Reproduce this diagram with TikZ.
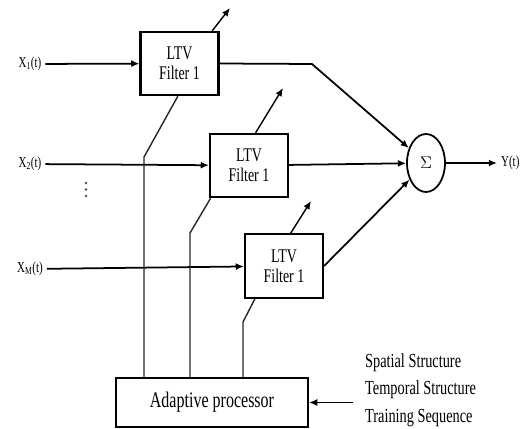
\documentclass[tikz,border=0pt]{standalone}
\usepackage{fontspec}
\setmainfont[FakeStretch=0.72]{Liberation Serif}
\usetikzlibrary{arrows.meta,shapes.geometric}

\begin{document}
\begin{tikzpicture}[
  x=0.03cm, y=-0.03cm,
  filt/.style={rectangle, draw, line width=1.8pt, minimum width=2.34cm, minimum height=1.9cm, align=center, font=\fontsize{16.5}{17}\selectfont},
  arrow/.style={-{Latex[length=7pt,width=6pt]}, line width=1.5pt},
  ctrl/.style={line width=1.2pt, black!85},
  lbl/.style={font=\fontsize{13}{14}\selectfont}
]
\useasboundingbox (0,0) rectangle (522,429);

\node[filt] (f1) at (179.5,63.5) {LTV\\Filter 1};
\node[filt] (f2) at (249,165.5) {LTV\\Filter 1};
\node[filt] (f3) at (284,266) {LTV\\Filter 1};

\node[ellipse, draw, line width=1.5pt, minimum width=1.14cm, minimum height=1.74cm, inner sep=0pt, font=\fontsize{15}{16}\selectfont] (sum) at (426,163) {$\Sigma$};

\node[rectangle, draw, line width=1.8pt, minimum width=5.76cm, minimum height=1.47cm, font=\fontsize{19}{20}\selectfont] (proc) at (212,402.5) {Adaptive processor};

\node[lbl] (x1) at (30,64) {X\textsubscript{1}(t)};
\node[lbl] (x2) at (30,164) {X\textsubscript{2}(t)};
\node[lbl] (xm) at (30,269) {X\textsubscript{M}(t)};
\node[lbl, anchor=west] (y) at (497,163) {Y(t)};

\node[anchor=west, align=left, font=\fontsize{17}{23.5}\selectfont] (info) at (361,390) {Spatial Structure\\Temporal Structure\\Training Sequence};

% vertical dots
\foreach \dy in {183,189.5,196}
  \fill[black!70] (86,\dy) circle (1.3);

% inputs
\draw[arrow] (x1) -- (f1);
\draw[arrow] (x2) -- (f2);
\draw[arrow] (xm) -- (f3);

% adjustable weights
\coordinate (w1) at (230,8);
\coordinate (w2) at (283,88);
\coordinate (w3) at (311,201);
\draw[arrow, line width=1.2pt] ([xshift=-0.22cm]f1.north east) -- (w1);
\draw[arrow, line width=1.2pt] ([xshift=1.4cm]f2.north west) -- (w2);
\draw[arrow, line width=1.2pt] ([xshift=1.4cm]f3.north west) -- (w3);

% to the summer
\coordinate (b1) at (312,64);
\draw[arrow] (f1.east) -- (b1) -- (sum);
\draw[arrow] (f2) -- (sum);
\draw[arrow] (f3.east) -- (sum);
\draw[arrow] (sum) -- (y);

% control lines
\coordinate (k1) at (144,157);
\coordinate (k2) at (190,233);
\coordinate (k3) at (243,322);
\draw[ctrl] (k1 |- proc.north) -- (k1) -- ([xshift=-0.05cm]f1.south);
\draw[ctrl] (k2 |- proc.north) -- (k2) -- ([xshift=0.05cm]f2.south west);
\draw[ctrl] (k3 |- proc.north) -- (k3) -- ([xshift=0.33cm]f3.south west);

\draw[arrow, line width=1.2pt] ([xshift=-0.25cm]info.west |- proc.east) -- (proc.east);

\end{tikzpicture}
\end{document}
